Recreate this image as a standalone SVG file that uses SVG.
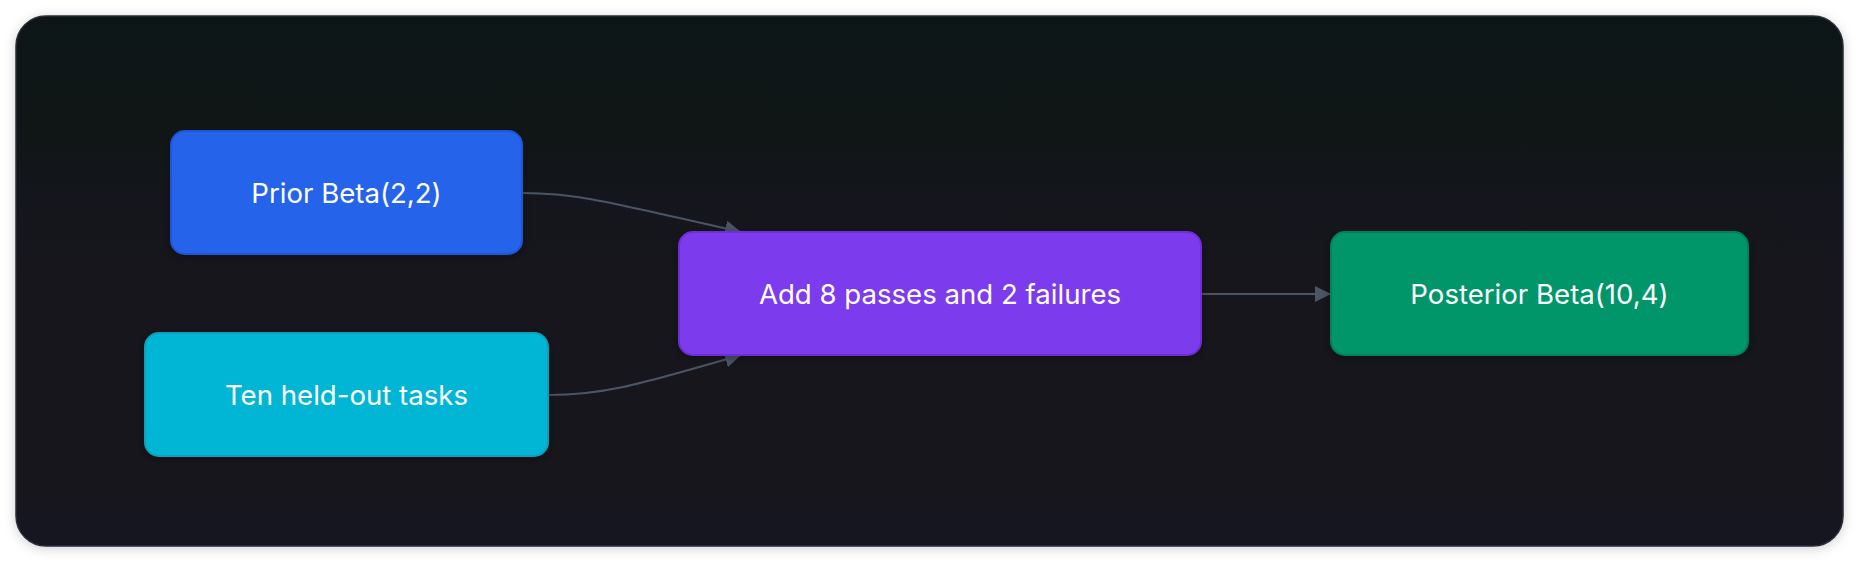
<svg xmlns="http://www.w3.org/2000/svg" width="1860" height="562" viewBox="0 0 1860 562">
  <defs>
    <linearGradient id="cardBg" x1="0" y1="0" x2="0" y2="1">
      <stop offset="0" stop-color="#111217"/>
      <stop offset="1" stop-color="#131420"/>
    </linearGradient>
    <filter id="cardShadow" x="-5%" y="-10%" width="110%" height="120%">
      <feDropShadow dx="0" dy="2" stdDeviation="6" flood-color="#000" flood-opacity="0.18"/>
    </filter>
    <filter id="nodeShadow" x="-10%" y="-20%" width="120%" height="140%">
      <feDropShadow dx="0" dy="2" stdDeviation="4" flood-color="#000" flood-opacity="0.35"/>
    </filter>
    <marker id="arrow" viewBox="0 0 16 16" refX="16" refY="8" markerWidth="16" markerHeight="16" markerUnits="userSpaceOnUse" orient="auto">
      <path d="M0,0 L16,8 L0,16 Z" fill="#4a5566"/>
    </marker>
  </defs>
  <style>
    .node rect { stroke-width: 2; filter: url(#nodeShadow); }
    .label { font-family: Inter, "Noto Sans", "Liberation Sans", sans-serif; font-size: 27.6px; fill: #ffffff; text-anchor: middle; dominant-baseline: central; }
    .edge { fill: none; stroke: #4a5566; stroke-width: 2; }
  </style>
  <rect width="1860" height="562" fill="#ffffff"/>
  <rect x="16" y="16" width="1827" height="530" rx="30" ry="30" fill="url(#cardBg)" stroke="#2a2e39" stroke-width="1.5" filter="url(#cardShadow)"/>

  <g id="connectors">
    <path class="edge" d="M522,193 C575,193 605,201 741,232" marker-end="url(#arrow)"/>
    <path class="edge" d="M548,395 C601,395 631,387 741,355" marker-end="url(#arrow)"/>
    <path class="edge" d="M1201,294 L1331,294" marker-end="url(#arrow)"/>
  </g>

  <g id="prior" class="node">
    <rect x="171" y="131" width="351" height="123" rx="14" fill="#2563eb" stroke="#1f55d6"/>
    <text class="label" x="346.5" y="192.5">Prior Beta(2,2)</text>
  </g>
  <g id="tasks" class="node">
    <rect x="145" y="333" width="403" height="123" rx="14" fill="#06b6d4" stroke="#0a9fbd"/>
    <text class="label" x="346.5" y="394.5">Ten held-out tasks</text>
  </g>
  <g id="update" class="node">
    <rect x="679" y="232" width="522" height="123" rx="14" fill="#7c3aed" stroke="#6d2fd6"/>
    <text class="label" x="940" y="293.5">Add 8 passes and 2 failures</text>
  </g>
  <g id="posterior" class="node">
    <rect x="1331" y="232" width="417" height="123" rx="14" fill="#059669" stroke="#06825c"/>
    <text class="label" x="1539.5" y="293.5">Posterior Beta(10,4)</text>
  </g>
</svg>
